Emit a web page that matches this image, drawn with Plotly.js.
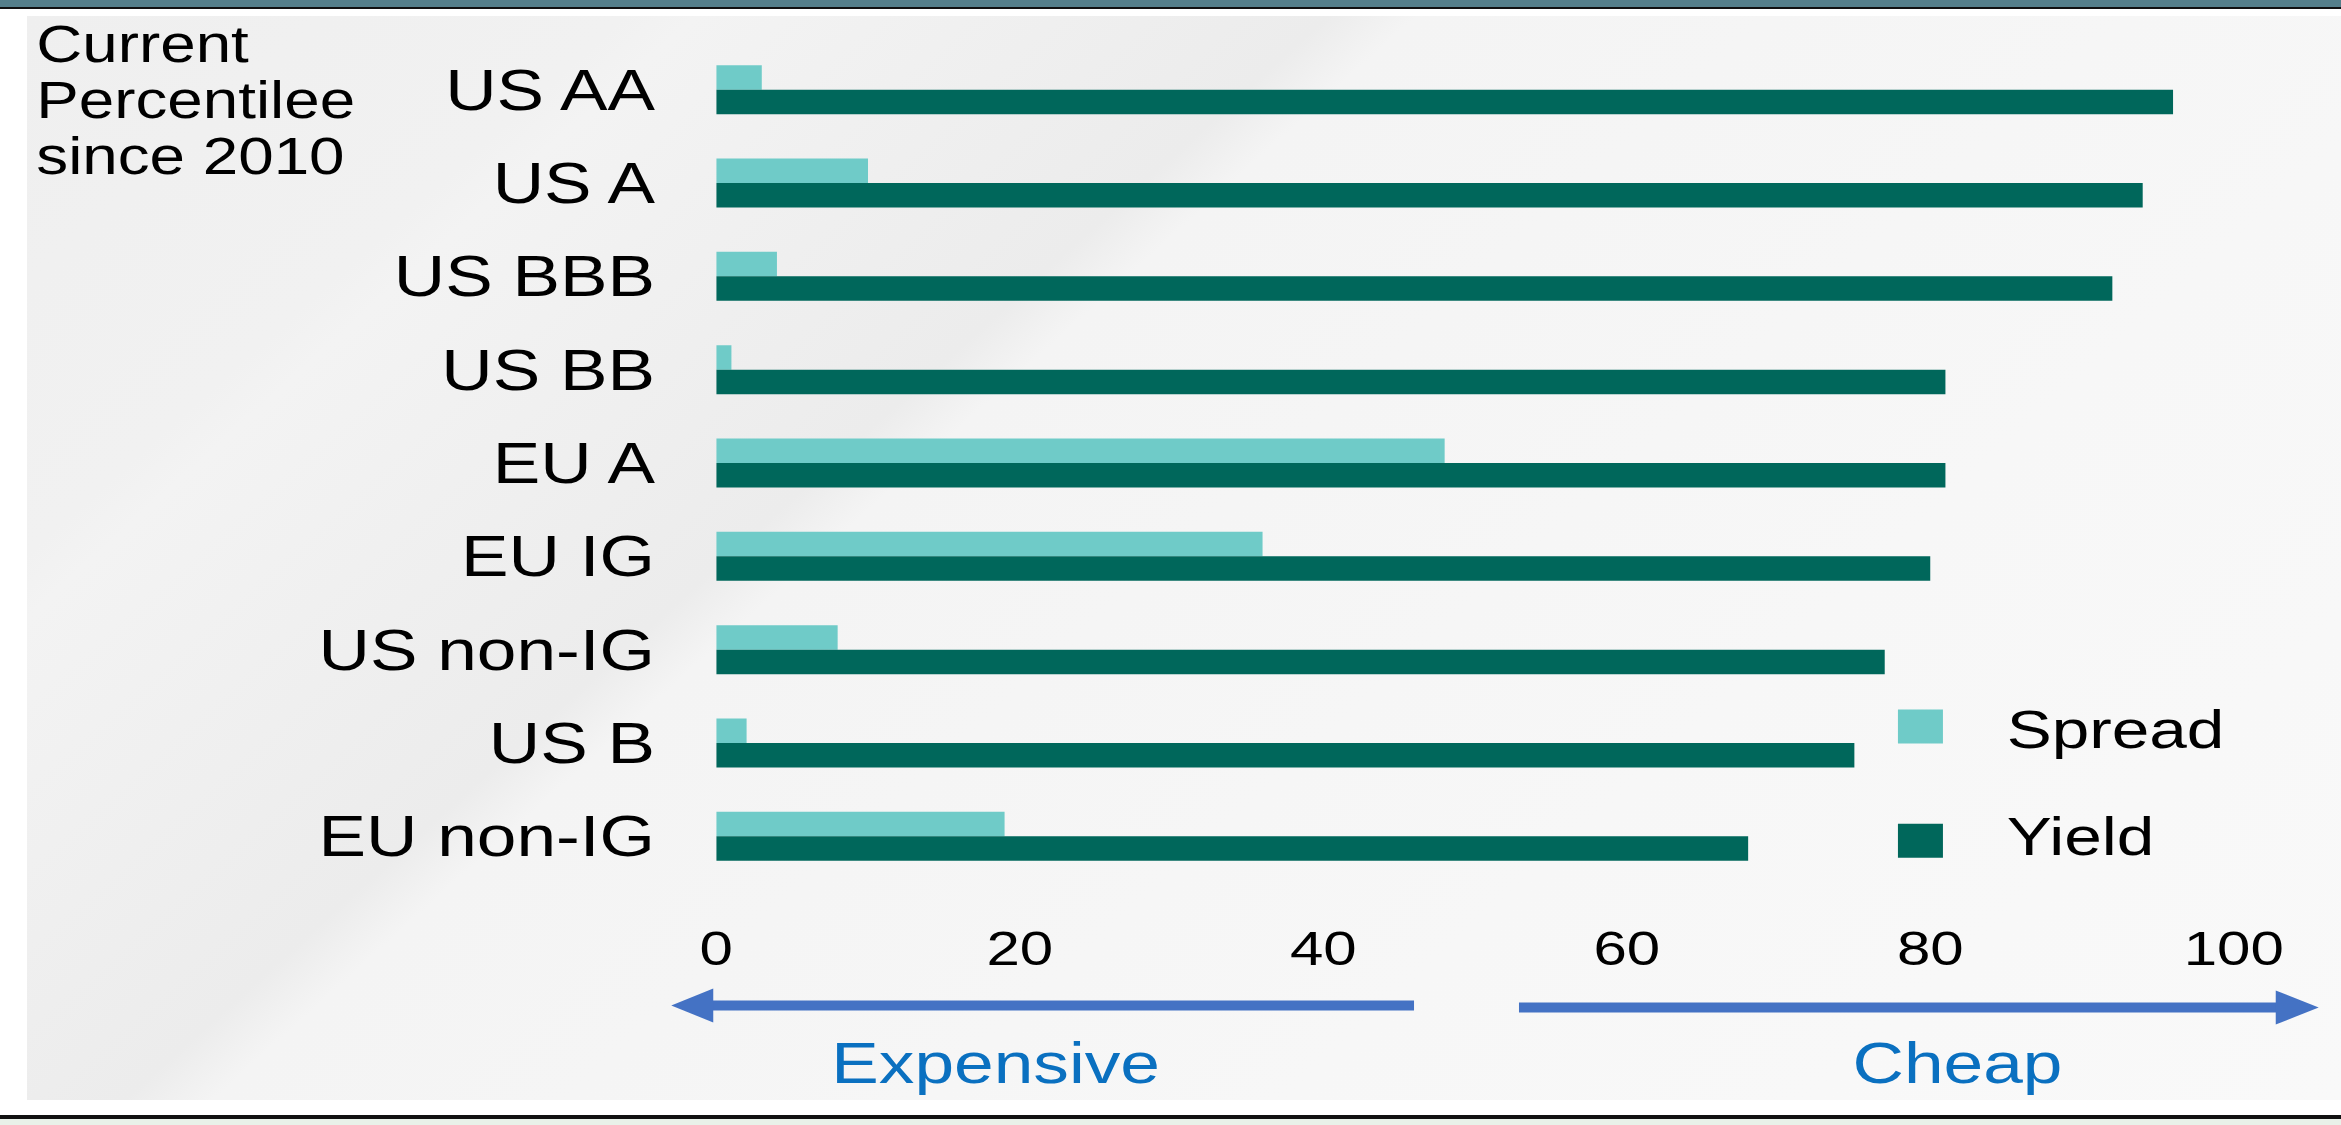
<!DOCTYPE html>
<html>
<head>
<meta charset="utf-8">
<script src="https://cdn.plot.ly/plotly-3.0.1.min.js"></script>
<style>
  html, body { margin: 0; padding: 0; width: 2341px; height: 1125px; overflow: hidden; background: #ffffff; }
  .deco { position: absolute; left: 0; width: 2341px; }
  #band { top: 0; height: 7px; background: #557f8b; }
  #topRule { top: 7px; height: 2px; background: #111111; }
  #panel {
    position: absolute; left: 27px; top: 16px; width: 2314px; height: 1084px;
    background: linear-gradient(138deg, #efefef 0%, #f1f1f1 17%, #f3f3f3 19%, #ececec 37%, #f4f4f4 39.5%, #f7f7f7 70%, #f9f9f9 100%);
  }
  #bottomRule { top: 1115px; height: 4px; background: #111111; }
  #foot { top: 1119px; height: 6px; background: #e9f1e9; }
  #chart { position: absolute; left: 0; top: 0; transform-origin: 0 0; }
</style>
</head>
<body>
<div id="band" class="deco"></div>
<div id="topRule" class="deco"></div>
<div id="panel"></div>
<div id="bottomRule" class="deco"></div>
<div id="foot" class="deco"></div>
<div id="chart"></div>
<script>
// Credit segments, top to bottom
const categories = ['US AA', 'US A', 'US BBB', 'US BB', 'EU A', 'EU IG', 'US non-IG', 'US B', 'EU non-IG'];
// Current percentile since 2010
const spreadPct = [3, 10, 4, 1, 48, 36, 8, 2, 19];
const yieldPct = [96, 94, 92, 81, 81, 80, 77, 75, 68];
// Horizontal axis ticks
const xTickVals = [0, 20, 40, 60, 80, 100];
const xTickText = ['0', '20', '40', '60', '80', '100'];
const seriesNames = ['Spread', 'Yield'];
const sideLabels = ['Current', 'Percentilee', 'since 2010'];
const directionLabels = ['Expensive', 'Cheap'];

// The figure is drawn in a narrower frame and widened by S horizontally.
const S = 1.25;
const H = 1125;
const W = 2341 / S;
const mL = 716 / S, mR = 107 / S, mT = 43, mB = 242;
const PW = W - mL - mR, PH = H - mT - mB;
// page pixel -> paper fraction
const px = X => (X / S - mL) / PW;
const py = Y => (H - mB - Y) / PH;

const chartDiv = document.getElementById('chart');
chartDiv.style.width = W + 'px';
chartDiv.style.height = H + 'px';
chartDiv.style.transform = 'scaleX(' + S + ')';

const FONT = '"Liberation Sans", Arial, Helvetica, sans-serif';
const ARROW = '#4472c4';
const BLUE_TEXT = '#0a70c0';

const data = [
  {
    type: 'bar', orientation: 'h', name: seriesNames[0],
    x: spreadPct, y: categories,
    marker: { color: '#6fcbc8', line: { width: 0 } },
    legendgroup: 'spread'
  },
  {
    type: 'bar', orientation: 'h', name: seriesNames[1],
    x: yieldPct, y: categories,
    marker: { color: '#00675b', line: { width: 0 } },
    legendgroup: 'yield'
  }
];

function arrowHead(tipX, baseX, y, half) {
  return 'M ' + px(tipX) + ',' + py(y) +
         ' L ' + px(baseX) + ',' + py(y - half) +
         ' L ' + px(baseX) + ',' + py(y + half) + ' Z';
}

const shapes = [
  { type: 'line', xref: 'paper', yref: 'paper', x0: px(705), x1: px(1414), y0: py(1005.5), y1: py(1005.5),
    line: { color: ARROW, width: 10 } },
  { type: 'path', xref: 'paper', yref: 'paper', path: arrowHead(671, 713, 1005.5, 17),
    fillcolor: ARROW, line: { width: 0 } },
  { type: 'line', xref: 'paper', yref: 'paper', x0: px(1519), x1: px(2282), y0: py(1007.5), y1: py(1007.5),
    line: { color: ARROW, width: 10 } },
  { type: 'path', xref: 'paper', yref: 'paper', path: arrowHead(2319, 2276, 1007.5, 17),
    fillcolor: ARROW, line: { width: 0 } }
];

const sideY = [44, 100.5, 157];
const annotations = sideLabels.map((t, i) => ({
  text: t, xref: 'paper', yref: 'paper', x: px(33), y: py(sideY[i]),
  xanchor: 'left', yanchor: 'middle', showarrow: false,
  font: { family: FONT, size: 51, color: '#000000' }
}));
annotations.push(
  { text: directionLabels[0], xref: 'paper', yref: 'paper', x: px(995), y: py(1063),
    xanchor: 'center', yanchor: 'middle', showarrow: false,
    font: { family: FONT, size: 57, color: BLUE_TEXT } },
  { text: directionLabels[1], xref: 'paper', yref: 'paper', x: px(1958), y: py(1063),
    xanchor: 'center', yanchor: 'middle', showarrow: false,
    font: { family: FONT, size: 57, color: BLUE_TEXT } }
);

const layout = {
  width: W, height: H,
  margin: { l: mL, r: mR, t: mT, b: mB, pad: 0 },
  paper_bgcolor: 'rgba(0,0,0,0)',
  plot_bgcolor: 'rgba(0,0,0,0)',
  font: { family: FONT, color: '#000000' },
  barmode: 'group',
  bargap: 0.475,
  bargroupgap: 0,
  showlegend: true,
  xaxis: {
    range: [0, 100], tickvals: xTickVals, ticktext: xTickText,
    showgrid: false, zeroline: false, showline: false, ticks: '',
    tickfont: { size: 48, color: '#000000' }, ticklabelstandoff: 33
  },
  yaxis: {
    type: 'category', autorange: 'reversed',
    showgrid: false, zeroline: false, showline: false, ticks: '',
    tickfont: { size: 57, color: '#000000' }, ticklabelstandoff: 48
  },
  legend: {
    x: 0.7367, y: py(685), xanchor: 'left', yanchor: 'top',
    orientation: 'v', traceorder: 'grouped', tracegroupgap: 34,
    itemwidth: 128, bgcolor: 'rgba(0,0,0,0)', borderwidth: 0,
    font: { family: FONT, size: 54, color: '#000000' }
  },
  shapes: shapes,
  annotations: annotations
};

// larger square swatches in the legend; the second one sits a little lower
const swatchPaths = ['M18,17H-18V-17H18Z', 'M18,24H-18V-10H18Z'];
function enlargeSwatches() {
  chartDiv.querySelectorAll('.legend .legendpoints path').forEach((p, i) => {
    p.setAttribute('d', swatchPaths[Math.min(i, swatchPaths.length - 1)]);
  });
}

Plotly.newPlot(chartDiv, data, layout, { displayModeBar: false, staticPlot: true }).then(gd => {
  enlargeSwatches();
  gd.on('plotly_afterplot', enlargeSwatches);
  setTimeout(enlargeSwatches, 50);
  setTimeout(enlargeSwatches, 300);
});
</script>
</body>
</html>
